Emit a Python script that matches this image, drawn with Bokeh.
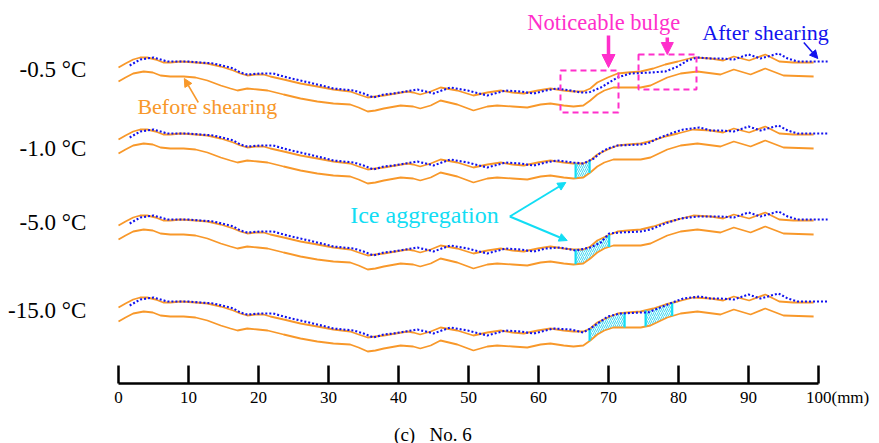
import numpy as np
from bokeh.plotting import figure
from bokeh.models import Range1d, LinearAxis, FixedTicker, Label, Arrow, NormalHead
from bokeh.core.properties import value
from bokeh.embed import file_html
from bokeh.resources import INLINE

# ---------------- data (x in mm, profile depth in drawing units, downward) ----------------
temps = ["-0.5 °C", "-1.0 °C", "-5.0 °C", "-15.0 °C"]
group_offset = [0, 72, 158, 240]

tick_values = [0, 10, 20, 30, 40, 50, 60, 70, 80, 90, 100]
tick_labels = ["0", "10", "20", "30", "40", "50", "60", "70", "80", "90", "100"]
unit_text = "(mm)"
caption = "(c)  No. 6"

# upper surface, before shearing
up_x = [0, 1, 2.1, 3.1, 4.1, 5.3, 6.4, 7.4, 8.9, 11, 12.7, 14.6, 16.4, 17.4, 18.4, 19.6,
        20.7, 21.7, 23.6, 26, 28.4, 30.7, 33.1, 34.3, 35.6, 36.7, 37.9, 39.6, 41.3, 42.1,
        43.1, 44.6, 46, 48.4, 50.7, 52.7, 54.6, 56.3, 57.9, 59.9, 61.7, 63.6, 65, 66.4,
        67.4, 68.4, 69.9, 71.3, 72.7, 74.6, 76.4, 78.1, 79.9, 82.1, 84.6, 86.4, 87.9,
        90.1, 92.4, 94.4, 96.4, 99.3]
up_y = [67, 63, 59, 57, 57, 59, 62, 62, 61, 62, 63, 66, 70, 73, 75, 74,
        74, 76, 79, 83, 86, 89, 91, 94, 97, 96, 95, 93, 91, 92,
        94, 91, 87, 90, 95, 92, 90, 92, 93, 90, 88, 90, 91, 91,
        88, 82, 77, 73, 72, 71, 68, 64, 61, 57, 58, 60, 56,
        60, 54, 61, 62, 62]

# lower surface, before shearing
lo_x = [0, 1, 2.1, 3.6, 4.9, 6, 7.4, 9.3, 11, 12.7, 14.6, 16, 17, 18.4, 19.9, 21.3, 23.6,
        26, 28.4, 30.7, 33.1, 34.3, 35.6, 36.7, 37.9, 40.3, 42.1, 43.1, 44.6, 46, 48.4,
        50.7, 52.7, 54.1, 56.3, 58.4, 60.3, 61.7, 63.6, 65, 66.4, 67.4, 68.4, 69.4, 70.7,
        72.7, 74.6, 76, 78.4, 80.3, 82.7, 86, 87.9, 90.3, 92.4, 95, 99.3]
lo_y = [81, 77, 73, 71, 72, 75, 76, 76, 77, 80, 85, 88, 90, 88, 89, 90, 94,
        98, 101, 103, 104, 107, 111, 110, 108, 105, 106, 108, 105, 100, 104,
        110, 106, 105, 106, 107, 104, 103, 105, 106, 105, 100, 94, 90, 87,
        87, 87, 85, 77, 73, 71, 74, 69, 74, 68, 75, 76]

# after shearing (blue dotted): common left part, per-temperature middle, common right part
after_left_x = [1.6, 3.1, 5, 6, 7, 9.9, 11.7, 13.6, 15.3, 16.4, 17.4, 18.4, 20.3, 22.1, 24.1,
                26, 28.4, 30.7, 33.6, 35, 36.4, 37.9, 39.3, 41, 42.7, 43.9, 45, 47.4, 49.9,
                52.7, 55.3, 57.4, 59.3, 61]
after_left_y = [65, 59, 57, 59, 61, 61, 62, 63, 66, 68, 72, 74, 73, 73, 77,
                80, 84, 88, 90, 93, 97, 94, 93, 91, 89, 91, 93, 87, 90,
                95, 90, 91, 93, 90]
after_mid_x = [
    [62.6, 64.6, 66, 67.2, 68.9, 71.3, 73.1, 76, 78.1, 79.9, 81.3, 82.7],
    [62.7, 65, 66.4, 67.9, 68.9, 69.9, 71.3, 74.6, 75.6, 77, 79.3, 80.7, 83],
    [63.1, 65.3, 67.4, 68.9, 70.1, 71.7, 74.6, 76, 78.1, 80.3, 82.7],
    [62.1, 64.6, 66.4, 67.4, 69.9, 71.7, 74.6, 75.6, 78.1, 79.1, 80.7, 83.1],
]
after_mid_y = [
    [88, 90, 92, 92, 87, 77, 73, 72, 71, 66, 60, 57],
    [88, 90, 91, 86, 80, 76, 73, 72, 71, 66, 60, 57, 55],
    [89, 92, 89, 84, 75, 74, 73, 71, 65, 60, 58],
    [88, 89, 92, 88, 76, 73, 72, 72, 65, 62, 58, 56],
]
after_right_x = [84.6, 86, 87.9, 90, 91.7, 94.3, 95.6, 97, 101.3]
after_right_y = [58, 58, 59, 54, 58, 53, 58, 61, 61]

# ice aggregation zones (mm) for each temperature
ice_zones = [[], [(65.3, 67.3)], [(65.3, 70.1)], [(67.3, 72.3), (75.3, 79.1)]]

# ---------------- styles ----------------
ORANGE = "#F8982A"
BLUE = "#1212EE"
MAGENTA = "#FF2FCB"
CYAN = "#12DDF4"
SERIF = "Liberation Serif"
PX = 7.0  # pixels per mm horizontally
NB = "\u00a0"

p = figure(frame_width=879, frame_height=383, output_backend="svg", toolbar_location=None,
           x_range=Range1d(-118 / PX, 761 / PX), y_range=Range1d(383, 0),
           x_axis_location=None, y_axis_location=None,
           min_border_left=0, min_border_right=0, min_border_top=0, min_border_bottom=0)
p.outline_line_color = None
p.grid.grid_line_color = None
p.background_fill_color = "white"
p.border_fill_color = "white"

up_x_a = np.array(up_x, float)
up_y_a = np.array(up_y, float)
lo_x_a = np.array(lo_x, float)
lo_y_a = np.array(lo_y, float)

for g, off in enumerate(group_offset):
    for a, b in ice_zones[g]:
        xs = np.linspace(a, b, 20)
        top = np.interp(xs, up_x_a, up_y_a) + off
        bot = np.interp(xs, lo_x_a, lo_y_a) + off
        p.varea(x=xs, y1=top, y2=bot, fill_color="#dffaff", fill_alpha=0.6,
                hatch_pattern="/", hatch_color="#39d6ee", hatch_scale=4, hatch_weight=0.9)
    p.line(up_x, [v + off for v in up_y], line_color=ORANGE, line_width=1.8)
    p.line(lo_x, [v + off for v in lo_y], line_color=ORANGE, line_width=1.8)
    for a, b in ice_zones[g]:
        for xv in (a, b):
            t = float(np.interp(xv, up_x_a, up_y_a)) + off
            bt = float(np.interp(xv, lo_x_a, lo_y_a)) + off
            p.segment(x0=[xv], y0=[t], x1=[xv], y1=[bt], line_color=CYAN, line_width=2.2)
    bx = after_left_x + after_mid_x[g] + after_right_x
    by = [v + off for v in after_left_y + after_mid_y[g] + after_right_y]
    p.line(bx, by, line_color=BLUE, line_width=2.1, line_dash="2 2")

# temperature labels
temp_label_y = [69, 148, 222, 310]
p.text(x=[-4.6] * 4, y=temp_label_y, text=temps, text_align="right", text_baseline="middle",
       text_font=value(SERIF), text_font_size="23px", text_color="black")

# noticeable bulge boxes
p.quad(left=[63.14, 74.29], right=[71.43, 82.57], top=[70, 54], bottom=[112, 89],
       fill_color=None, line_color=MAGENTA, line_width=2, line_dash="6 4")

def lab(x, y, text, color, size="22px", align="left"):
    p.add_layout(Label(x=x, y=y, text=text, text_color=color, text_font=SERIF,
                       text_font_size=size, text_baseline="middle", text_align=align))

lab(2.7, 106, "Before shearing", ORANGE)
lab(83.4, 32, "After shearing", BLUE)
lab(58.4, 22, "Noticeable bulge", MAGENTA, size="22.5px")
lab(33.1, 214, "Ice aggregation", CYAN, size="24px")

def arrow(x0, y0, x1, y1, color, w=1.5, size=8):
    p.add_layout(Arrow(end=NormalHead(size=size, fill_color=color, line_color=color),
                       x_start=x0, y_start=y0, x_end=x1, y_end=y1,
                       line_color=color, line_width=w))

arrow(11.4, 102, 9.4, 78, ORANGE)
arrow(97.9, 42, 99.9, 58, BLUE)
arrow(70.0, 35, 70.0, 67, MAGENTA, w=3.5, size=13)
arrow(78.4, 37, 78.4, 54, MAGENTA, w=3.5, size=12)
arrow(55.9, 216, 63.9, 182, CYAN, w=2)
arrow(55.9, 216, 64.1, 240, CYAN, w=2)

# x axis; the unit text is attached to the last tick label, padded so "100" stays centred
overrides = {t: s for t, s in zip(tick_values, tick_labels)}
overrides[tick_values[-1]] = NB * 9 + tick_labels[-1] + unit_text
ax = LinearAxis(ticker=FixedTicker(ticks=tick_values), bounds=(0, 100),
                major_label_overrides=overrides,
                major_tick_in=18, major_tick_out=0, minor_tick_in=0, minor_tick_out=0,
                axis_line_width=2.5, major_tick_line_width=2.5,
                axis_line_color="black", major_tick_line_color="black",
                major_label_text_font=SERIF, major_label_text_font_size="17px",
                major_label_text_color="black", major_label_standoff=4,
                axis_label=caption.replace("  ", NB + NB + NB) + NB * 3,
                axis_label_text_font=SERIF,
                axis_label_text_font_size="19px", axis_label_text_font_style="normal",
                axis_label_text_color="black", axis_label_standoff=14)
p.add_layout(ax, "below")

open("out.html", "w").write(file_html(p, INLINE))
